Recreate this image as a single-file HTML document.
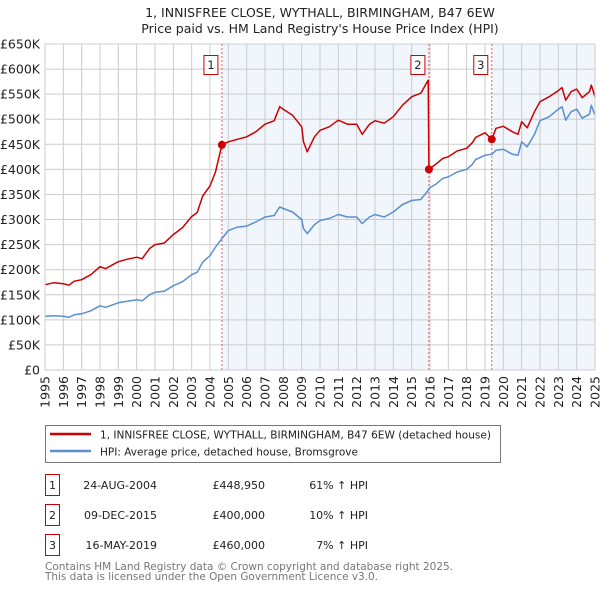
<!DOCTYPE html>
<html><head><meta charset="utf-8"><style>
body{margin:0;background:#fff;width:600px;height:590px;overflow:hidden;font-family:"DejaVu Sans","Liberation Sans",sans-serif;}
svg text{font-family:"DejaVu Sans","Liberation Sans",sans-serif;}
</style></head><body>
<svg id="c" width="600" height="590">
<text x="320" y="17" text-anchor="middle" font-size="12.5" fill="#222">1, INNISFREE CLOSE, WYTHALL, BIRMINGHAM, B47 6EW</text>
<text x="320" y="33" text-anchor="middle" font-size="12.5" fill="#222">Price paid vs. HM Land Registry's House Price Index (HPI)</text>
<g id="plot"></g>
<g>
<rect x="45.5" y="425.5" width="455" height="37" fill="#fff" stroke="#777"/>
<line x1="50" y1="434" x2="91" y2="434" stroke="#cc0000" stroke-width="2.5"/>
<text x="100" y="438.5" font-size="11" textLength="391" lengthAdjust="spacingAndGlyphs" fill="#222">1, INNISFREE CLOSE, WYTHALL, BIRMINGHAM, B47 6EW (detached house)</text>
<line x1="50" y1="451" x2="91" y2="451" stroke="#5b8fd0" stroke-width="2.5"/>
<text x="100" y="455.5" font-size="11" textLength="258" lengthAdjust="spacingAndGlyphs" fill="#222">HPI: Average price, detached house, Bromsgrove</text>
</g>
<g id="table" font-size="11" fill="#222"></g>
<text x="45" y="570" font-size="11" textLength="408" lengthAdjust="spacingAndGlyphs" fill="#777">Contains HM Land Registry data © Crown copyright and database right 2025.</text>
<text x="45" y="580" font-size="11" textLength="333" lengthAdjust="spacingAndGlyphs" fill="#777">This data is licensed under the Open Government Licence v3.0.</text>
</svg>
<script>
const years=[1995,1995.5,1996,1996.3,1996.6,1997,1997.5,1998,1998.3,1998.7,1999,1999.5,2000,2000.3,2000.7,2001,2001.5,2002,2002.5,2003,2003.3,2003.6,2004,2004.3,2004.65,2005,2005.5,2006,2006.5,2007,2007.5,2007.8,2008,2008.5,2009,2009.1,2009.3,2009.7,2010,2010.5,2011,2011.5,2012,2012.3,2012.7,2013,2013.5,2014,2014.5,2015,2015.5,2015.9,2015.94,2016.3,2016.7,2017,2017.5,2018,2018.3,2018.5,2019,2019.37,2019.6,2020,2020.5,2020.8,2021,2021.3,2021.7,2022,2022.5,2023,2023.2,2023.4,2023.7,2024,2024.3,2024.7,2024.8,2025];
const hpi=[107,108,107,105,110,112,118,128,125,130,134,137,140,138,150,155,157,168,176,190,195,215,228,245,262,278,285,287,295,305,308,325,322,315,300,282,272,290,298,302,310,305,305,292,305,310,305,315,330,338,340,358,362,370,382,385,395,400,410,420,428,430,438,440,430,428,455,445,470,497,505,520,525,498,515,520,502,510,528,508];
const red=[170,174,172,169,177,180,190,206,202,210,216,221,225,222,242,250,253,270,284,306,314,347,367,395,449,455,460,465,475,490,497,525,520,508,485,455,435,465,478,485,498,490,490,470,490,497,492,505,528,545,552,578,400,410,422,425,437,442,453,464,473,460,482,486,475,470,495,483,515,535,545,557,563,538,555,560,543,555,568,545];
const saleYears=[2004.65,2015.94,2019.37];
const salePrices=[448950,400000,460000];
const saleLabels=["1","2","3"];
const saleDates=["24-AUG-2004","09-DEC-2015","16-MAY-2019"];
const salePriceText=["£448,950","£400,000","£460,000"];
const saleHpiText=["61% ↑ HPI","10% ↑ HPI","7% ↑ HPI"];
const yTicks=[0,50,100,150,200,250,300,350,400,450,500,550,600,650];
const xTicks=[1995,1996,1997,1998,1999,2000,2001,2002,2003,2004,2005,2006,2007,2008,2009,2010,2011,2012,2013,2014,2015,2016,2017,2018,2019,2020,2021,2022,2023,2024,2025];
const L=45,R=595,T=44,B=370;
const xs=y=>L+(y-1995)/30*(R-L);
const ys=v=>B-v/650*(B-T);
const NS="http://www.w3.org/2000/svg";
const g=document.getElementById('plot');
function mk(tag,at,parent){const e=document.createElementNS(NS,tag);for(const k in at)e.setAttribute(k,at[k]);(parent||g).appendChild(e);return e;}
let e=mk('rect',{x:L,y:T,width:R-L,height:B-T,fill:'#fff'});


e=mk('rect',{x:xs(saleYears[0]),y:T,width:xs(saleYears[1])-xs(saleYears[0]),height:B-T,fill:'#eef2fb',opacity:0.8});


e=mk('rect',{x:xs(saleYears[2]),y:T,width:R-xs(saleYears[2]),height:B-T,fill:'#eef2fb',opacity:0.8});


yTicks.forEach(v=>{
 e=mk('line',{x1:L,x2:R,y1:ys(v),y2:ys(v),stroke:'#ccc','stroke-width':1});
 
 
 e=mk('text',{x:L-5,y:ys(v)+4.5,'text-anchor':'end','font-size':'12.5',fill:'#222'});
 e.textContent=v===0?'£0':'£'+v+'K';
 
 
});
xTicks.forEach(y=>{
 e=mk('line',{x1:xs(y),x2:xs(y),y1:T,y2:B,stroke:'#ccc','stroke-width':1});
 
 
 e=mk('text',{x:0,y:0,'text-anchor':'end','font-size':'12.5',fill:'#222',transform:`translate(${xs(y)+4.5},${B+6}) rotate(-90)`});
 e.textContent=y;
 
 
});
saleYears.forEach((y,i)=>{
 e=mk('line',{x1:xs(y),x2:xs(y),y1:T,y2:B,stroke:'#e06060','stroke-width':1,'stroke-dasharray':'2,2'});
 
 
});
function path(vals,col,name){
 const d=years.map((y,i)=>(i?'L':'M')+xs(y).toFixed(1)+','+ys(vals[i]).toFixed(1)).join('');
 const p=mk('path',{d:d,fill:'none',stroke:col,'stroke-width':1.5,'stroke-linejoin':'round'});
 
 
}
path(hpi,'#5b8fd0','hpi-line');
path(red,'#cc0000','property-price-line');
saleYears.forEach((y,i)=>{
 e=mk('circle',{cx:xs(y),cy:ys(salePrices[i]/1000),r:4,fill:'#cc0000'});
 
 
 e=mk('rect',{x:xs(y)-18,y:55.5,width:14,height:19,fill:'#fff',stroke:'#cc0000','stroke-width':1});
 
 
 e=mk('text',{x:xs(y)-11,y:69,'text-anchor':'middle','font-size':'11.5',fill:'#222'});
 e.textContent=saleLabels[i];
 
 
});
mk('line',{x1:L,x2:L,y1:T,y2:B,stroke:'#ccc'});
mk('line',{x1:R,x2:R,y1:T,y2:B,stroke:'#ccc'});
const tb=document.getElementById('table');
const rowY=[485,515,545];
saleLabels.forEach((s,i)=>{
 const cy=rowY[i];
 e=mk('rect',{x:45.5,y:cy-10.5,width:14,height:21,fill:'#fff',stroke:'#cc0000','stroke-width':1},tb);
 
 
 e=mk('text',{x:52.5,y:cy+4,'text-anchor':'middle'},tb);e.textContent=s;
 
 
 e=mk('text',{x:157,y:cy+4,'text-anchor':'end'},tb);e.textContent=saleDates[i];
 
 
 e=mk('text',{x:265,y:cy+4,'text-anchor':'end'},tb);e.textContent=salePriceText[i];
 
 
 e=mk('text',{x:368,y:cy+4,'text-anchor':'end'},tb);e.textContent=saleHpiText[i];
 
 
});
</script>
</body></html>
